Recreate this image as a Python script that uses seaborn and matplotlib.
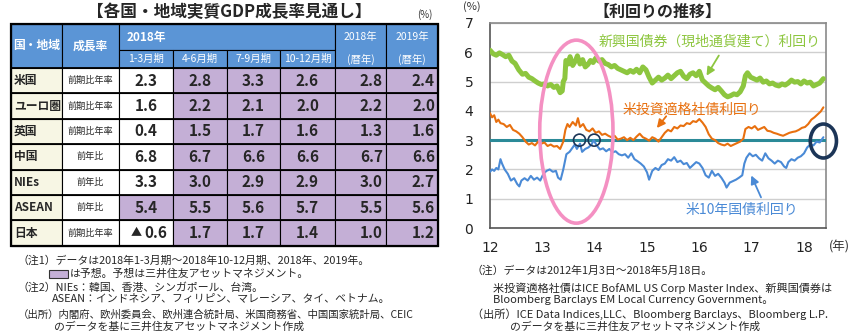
import numpy as np
import pandas as pd
import matplotlib
matplotlib.use("Agg")
import matplotlib.pyplot as plt
from matplotlib.patches import Rectangle, Ellipse
import seaborn as sns

sns.set_style("white")
plt.rcParams['font.family'] = ['Noto Sans CJK JP', 'DejaVu Sans']

# ---------------- table data ----------------
regions = ['米国', 'ユーロ圏', '英国', '中国', 'NIEs', 'ASEAN', '日本']
rate_types = ['前期比年率', '前期比年率', '前期比年率', '前年比', '前年比', '前年比', '前期比年率']
q1 = [2.3, 1.6, 0.4, 6.8, 3.3, 5.4, -0.6]
q2 = [2.8, 2.2, 1.5, 6.7, 3.0, 5.5, 1.7]
q3 = [3.3, 2.1, 1.7, 6.6, 2.9, 5.6, 1.7]
q4 = [2.6, 2.0, 1.6, 6.6, 2.9, 5.7, 1.4]
y2018 = [2.8, 2.2, 1.3, 6.7, 3.0, 5.5, 1.0]
y2019 = [2.4, 2.0, 1.6, 6.6, 2.7, 5.6, 1.2]
q1_forecast = [False, False, False, False, False, True, False]
quarter_labels = ['1-3月期', '4-6月期', '7-9月期', '10-12月期']

# ---------------- yield data (x = year, 2-digit) ----------------
em_x = [12.00, 12.06, 12.12, 12.18, 12.24, 12.30, 12.36, 12.42, 12.48, 12.55, 12.62, 12.68, 12.74, 12.80,
        12.86, 12.92, 12.98, 13.04, 13.10, 13.16, 13.22, 13.28, 13.34, 13.38, 13.40, 13.43, 13.45, 13.50,
        13.53, 13.58, 13.63, 13.67, 13.72, 13.77, 13.82, 13.87, 13.92, 13.97, 14.02, 14.08, 14.14, 14.20,
        14.26, 14.32, 14.38, 14.44, 14.50, 14.56, 14.62, 14.68, 14.74, 14.80, 14.86, 14.92, 14.98, 15.04,
        15.10, 15.16, 15.22, 15.28, 15.34, 15.40, 15.46, 15.52, 15.58, 15.64, 15.70, 15.76, 15.82, 15.88,
        15.94, 16.00, 16.06, 16.12, 16.18, 16.24, 16.30, 16.36, 16.42, 16.48, 16.54, 16.60, 16.66, 16.72,
        16.78, 16.84, 16.88, 16.92, 16.98, 17.04, 17.10, 17.16, 17.22, 17.28, 17.34, 17.40, 17.46, 17.52,
        17.58, 17.64, 17.70, 17.76, 17.82, 17.88, 17.94, 18.00, 18.06, 18.12, 18.18, 18.24, 18.30, 18.37]
em_y = [6.07, 5.95, 5.90, 5.98, 5.92, 5.85, 5.90, 5.70, 5.62, 5.40, 5.25, 5.28, 5.15, 5.10,
        5.02, 4.95, 4.90, 4.92, 4.85, 4.90, 4.80, 4.85, 4.62, 4.68, 5.00, 5.10, 5.72, 5.60,
        5.85, 5.55, 5.70, 5.88, 5.60, 5.75, 5.50, 5.58, 5.72, 5.65, 5.80, 5.70, 5.75, 5.62,
        5.58, 5.50, 5.55, 5.45, 5.40, 5.35, 5.30, 5.38, 5.32, 5.42, 5.30, 5.50, 5.40, 5.15,
        4.95, 5.05, 5.15, 5.05, 5.12, 5.22, 5.10, 5.20, 5.30, 5.35, 5.18, 5.10, 5.25, 5.30,
        5.20, 5.35, 5.05, 4.95, 4.85, 4.78, 4.72, 4.80, 4.68, 4.55, 4.48, 4.52, 4.58, 4.55,
        4.65, 4.85, 5.20, 5.30, 5.15, 5.10, 5.05, 5.12, 4.98, 5.02, 4.92, 4.95, 4.88, 4.85,
        4.92, 4.88, 4.95, 5.05, 4.98, 5.00, 4.92, 5.02, 4.95, 4.98, 4.85, 4.90, 4.95, 5.10]

ig_x = [12.00, 12.04, 12.08, 12.12, 12.16, 12.20, 12.26, 12.32, 12.38, 12.44, 12.50, 12.56, 12.62, 12.68,
        12.74, 12.80, 12.86, 12.92, 12.98, 13.04, 13.10, 13.16, 13.22, 13.28, 13.34, 13.40, 13.44, 13.48,
        13.52, 13.58, 13.64, 13.68, 13.72, 13.78, 13.84, 13.90, 13.96, 14.02, 14.08, 14.14, 14.20, 14.26,
        14.32, 14.38, 14.44, 14.50, 14.56, 14.62, 14.68, 14.74, 14.80, 14.86, 14.92, 14.98, 15.04, 15.10,
        15.16, 15.22, 15.28, 15.34, 15.40, 15.46, 15.52, 15.58, 15.64, 15.70, 15.76, 15.82, 15.88, 15.94,
        16.00, 16.06, 16.12, 16.18, 16.24, 16.30, 16.36, 16.42, 16.48, 16.54, 16.60, 16.66, 16.72, 16.78,
        16.84, 16.88, 16.94, 17.00, 17.06, 17.12, 17.18, 17.24, 17.30, 17.36, 17.42, 17.48, 17.54, 17.60,
        17.66, 17.72, 17.78, 17.84, 17.90, 17.96, 18.02, 18.08, 18.14, 18.20, 18.26, 18.32, 18.37]
ig_y = [3.92, 3.78, 3.85, 3.62, 3.70, 3.58, 3.55, 3.45, 3.52, 3.35, 3.30, 3.22, 3.10, 2.95,
        2.85, 2.90, 2.82, 2.95, 2.88, 2.92, 2.80, 2.85, 2.78, 2.80, 2.70, 2.95, 3.35, 3.55,
        3.45, 3.62, 3.50, 3.75, 3.45, 3.55, 3.35, 3.30, 3.40, 3.25, 3.30, 3.18, 3.22, 3.15,
        3.10, 3.15, 3.02, 3.05, 3.10, 3.00, 3.08, 3.00, 3.12, 3.22, 3.10, 3.05, 2.98, 3.10,
        3.05, 2.95, 3.10, 3.25, 3.35, 3.30, 3.45, 3.40, 3.50, 3.48, 3.58, 3.55, 3.65, 3.62,
        3.72, 3.60, 3.45, 3.20, 3.05, 3.00, 2.90, 2.85, 2.82, 2.88, 2.80, 2.85, 2.90, 2.95,
        3.05, 3.38, 3.45, 3.40, 3.48, 3.35, 3.40, 3.45, 3.32, 3.30, 3.25, 3.22, 3.18, 3.15,
        3.20, 3.25, 3.28, 3.30, 3.35, 3.42, 3.45, 3.55, 3.70, 3.78, 3.88, 3.98, 4.12]

ust_x = [12.00, 12.04, 12.08, 12.12, 12.16, 12.20, 12.23, 12.28, 12.34, 12.40, 12.46, 12.52, 12.56, 12.60,
         12.66, 12.72, 12.78, 12.84, 12.90, 12.96, 13.02, 13.08, 13.14, 13.20, 13.26, 13.30, 13.35, 13.40,
         13.46, 13.52, 13.58, 13.62, 13.66, 13.72, 13.76, 13.82, 13.88, 13.94, 13.98, 14.04, 14.10, 14.16,
         14.22, 14.28, 14.34, 14.40, 14.46, 14.52, 14.58, 14.64, 14.70, 14.76, 14.82, 14.88, 14.94, 15.00,
         15.04, 15.10, 15.16, 15.22, 15.28, 15.34, 15.40, 15.46, 15.52, 15.58, 15.64, 15.70, 15.76, 15.82,
         15.88, 15.94, 16.00, 16.06, 16.12, 16.18, 16.24, 16.30, 16.36, 16.42, 16.48, 16.52, 16.58, 16.64,
         16.70, 16.76, 16.82, 16.86, 16.90, 16.96, 17.02, 17.08, 17.14, 17.20, 17.26, 17.32, 17.38, 17.44,
         17.50, 17.56, 17.62, 17.66, 17.70, 17.76, 17.82, 17.88, 17.94, 18.00, 18.06, 18.12, 18.18, 18.24,
         18.30, 18.37]
ust_y = [1.92, 2.00, 1.95, 2.05, 2.00, 2.35, 2.20, 2.00, 1.85, 1.62, 1.70, 1.50, 1.42, 1.62,
         1.70, 1.62, 1.78, 1.65, 1.72, 1.62, 1.85, 1.95, 2.00, 1.92, 1.95, 1.72, 1.65, 2.00,
         2.52, 2.60, 2.75, 2.85, 2.70, 2.88, 2.60, 2.70, 2.75, 2.85, 3.00, 2.82, 2.68, 2.72,
         2.62, 2.70, 2.58, 2.62, 2.52, 2.48, 2.52, 2.40, 2.55, 2.35, 2.28, 2.20, 2.10, 1.90,
         1.65, 1.95, 2.05, 1.98, 2.15, 2.20, 2.35, 2.30, 2.42, 2.25, 2.30, 2.18, 2.22, 2.05,
         2.15, 2.25, 2.20, 2.05, 1.80, 1.72, 1.95, 1.78, 1.85, 1.72, 1.55, 1.38, 1.55, 1.60,
         1.65, 1.72, 1.80, 2.20, 2.40, 2.55, 2.45, 2.50, 2.38, 2.30, 2.55, 2.38, 2.30, 2.20,
         2.30, 2.25, 2.10, 2.05, 2.25, 2.35, 2.30, 2.40, 2.45, 2.55, 2.75, 2.85, 2.82, 2.95,
         2.92, 3.10]

x_ticks = [12, 13, 14, 15, 16, 17, 18]
y_ticks = [0, 1, 2, 3, 4, 5, 6, 7]

# ---------------- figure ----------------
W, H = 853, 334
fig = plt.figure(figsize=(W / 100, H / 100), dpi=100)
fig.patch.set_facecolor('white')

# overlay axes in pixel coordinates for table / texts
ax_t = fig.add_axes([0, 0, 1, 1])
ax_t.set_xlim(0, W)
ax_t.set_ylim(H, 0)
ax_t.axis('off')

C_HEAD = '#5b95d6'
C_PURP = '#c4afd6'
C_CREAM = '#f7f6e4'

col_edges = [11, 62, 119, 173, 227, 280, 335, 386, 438]
head_edges = [24, 50, 68]
row_h = 25.4
row_edges = [68 + i * row_h for i in range(len(regions) + 1)]

def rect(x0, y0, x1, y1, fc, lw=0.8):
    ax_t.add_patch(Rectangle((x0, y0), x1 - x0, y1 - y0, facecolor=fc, edgecolor='black', lw=lw, zorder=2))

# header cells
rect(col_edges[0], head_edges[0], col_edges[1], head_edges[2], C_HEAD)
rect(col_edges[1], head_edges[0], col_edges[2], head_edges[2], C_HEAD)
rect(col_edges[2], head_edges[0], col_edges[6], head_edges[1], C_HEAD)
for i in range(4):
    rect(col_edges[2 + i], head_edges[1], col_edges[3 + i], head_edges[2], C_HEAD)
rect(col_edges[6], head_edges[0], col_edges[7], head_edges[2], C_HEAD)
rect(col_edges[7], head_edges[0], col_edges[8], head_edges[2], C_HEAD)

hy = (head_edges[0] + head_edges[2]) / 2
ax_t.text((col_edges[0] + col_edges[1]) / 2, hy, '国・地域', color='white', fontsize=8.5,
          fontweight='bold', ha='center', va='center', zorder=3)
ax_t.text((col_edges[1] + col_edges[2]) / 2, hy, '成長率', color='white', fontsize=8.5,
          fontweight='bold', ha='center', va='center', zorder=3)
ax_t.text(col_edges[2] + 8, (head_edges[0] + head_edges[1]) / 2, '2018年', color='white', fontsize=8.5,
          fontweight='bold', ha='left', va='center', zorder=3)
for i, lab in enumerate(quarter_labels):
    ax_t.text((col_edges[2 + i] + col_edges[3 + i]) / 2, (head_edges[1] + head_edges[2]) / 2, lab,
              color='white', fontsize=7.5, ha='center', va='center', zorder=3)
for j, yr in zip([6, 7], ['2018年', '2019年']):
    cx = (col_edges[j] + col_edges[j + 1]) / 2
    ax_t.text(cx, 37, yr, color='white', fontsize=7.5, ha='center', va='center', zorder=3)
    ax_t.text(cx, 59, '(暦年)', color='white', fontsize=7.5, ha='center', va='center', zorder=3)

for r in range(len(regions)):
    y0, y1 = row_edges[r], row_edges[r + 1]
    cy = (y0 + y1) / 2
    rect(col_edges[0], y0, col_edges[1], y1, C_CREAM)
    rect(col_edges[1], y0, col_edges[2], y1, 'white')
    ax_t.text(col_edges[0] + 3, cy, regions[r], fontsize=8.5, fontweight='bold', ha='left',
              va='center', zorder=3)
    ax_t.text((col_edges[1] + col_edges[2]) / 2, cy, rate_types[r], fontsize=6.6, ha='center',
              va='center', zorder=3)
    vals = [q1[r], q2[r], q3[r], q4[r], y2018[r], y2019[r]]
    for k, v in enumerate(vals):
        c0, c1 = col_edges[2 + k], col_edges[3 + k]
        fc = C_PURP if (k > 0 or q1_forecast[r]) else 'white'
        rect(c0, y0, c1, y1, fc)
        if k < 4:
            if v < 0:
                ax_t.text((c0 + c1) / 2 - 4, cy, '▲', fontsize=8, fontweight='bold', ha='right',
                          va='center', zorder=3)
                ax_t.text((c0 + c1) / 2 - 2, cy, '%.1f' % abs(v), fontsize=11, fontweight='bold',
                          ha='left', va='center', zorder=3)
            else:
                ax_t.text((c0 + c1) / 2, cy, '%.1f' % v, fontsize=11, fontweight='bold', ha='center',
                          va='center', zorder=3)
        else:
            ax_t.text(c1 - 3, cy, '%.1f' % v, fontsize=11, fontweight='bold', ha='right',
                      va='center', zorder=3)
    ax_t.plot([col_edges[0], col_edges[-1]], [y0, y0], color='black', lw=1.3, zorder=4)

ax_t.add_patch(Rectangle((col_edges[0], head_edges[0]), col_edges[-1] - col_edges[0],
                         row_edges[-1] - head_edges[0], fill=False, edgecolor='black', lw=1.6, zorder=5))

# titles
ax_t.text(229, 12, '【各国・地域実質GDP成長率見通し】', fontsize=12, fontweight='bold',
          ha='center', va='center')
ax_t.text(425, 15, '(%)', fontsize=7, ha='center', va='center', color='#333333')
ax_t.text(657, 12, '【利回りの推移】', fontsize=11.5, fontweight='bold', ha='center', va='center')
ax_t.text(472, 7, '(%)', fontsize=8, ha='center', va='center', color='#333333')
ax_t.text(839, 247, '(年)', fontsize=9, ha='center', va='center', color='#333333')

# footnotes left
fs = 7.8
ax_t.text(18, 261, '（注1）データは2018年1-3月期～2018年10-12月期、2018年、2019年。', fontsize=fs, va='center')
ax_t.add_patch(Rectangle((49, 270), 19, 8, facecolor=C_PURP, edgecolor='#333333', lw=0.8))
ax_t.text(70, 274, 'は予想。予想は三井住友アセットマネジメント。', fontsize=fs, va='center')
ax_t.text(18, 287, '（注2）NIEs：韓国、香港、シンガポール、台湾。', fontsize=fs, va='center')
ax_t.text(52, 299, 'ASEAN：インドネシア、フィリピン、マレーシア、タイ、ベトナム。', fontsize=fs, va='center')
ax_t.text(18, 315, '（出所）内閣府、欧州委員会、欧州連合統計局、米国商務省、中国国家統計局、CEIC',
          fontsize=7.5, va='center')
ax_t.text(54, 327, 'のデータを基に三井住友アセットマネジメント作成', fontsize=fs, va='center')

# footnotes right
ax_t.text(472, 271, '（注）データは2012年1月3日～2018年5月18日。', fontsize=fs, va='center')
ax_t.text(493, 288, '米投資適格社債はICE BofAML US Corp Master Index、新興国債券は', fontsize=8, va='center')
ax_t.text(493, 300, 'Bloomberg Barclays EM Local Currency Government。', fontsize=8, va='center')
ax_t.text(472, 314, '（出所）ICE Data Indices,LLC、Bloomberg Barclays、Bloomberg L.P.', fontsize=8,
          va='center')
ax_t.text(510, 327, 'のデータを基に三井住友アセットマネジメント作成', fontsize=fs, va='center')

# ---------------- line chart ----------------
L, R, T, B = 490, 826, 23, 228
ax = fig.add_axes([L / W, 1 - B / H, (R - L) / W, (B - T) / H])
ax.set_facecolor('white')

C_GREEN = '#8dc63f'
C_ORANGE = '#e8700f'
C_BLUE = '#4a8ad6'
C_TEAL = '#2b8a98'
C_NAVY = '#1c3557'

ax.axhline(3, color=C_TEAL, lw=2.2, zorder=3)
sns.lineplot(x=em_x, y=em_y, ax=ax, color=C_GREEN, lw=3.6, sort=False, estimator=None, zorder=4)
sns.lineplot(x=ig_x, y=ig_y, ax=ax, color=C_ORANGE, lw=1.5, sort=False, estimator=None, zorder=4)
sns.lineplot(x=ust_x, y=ust_y, ax=ax, color=C_BLUE, lw=1.5, sort=False, estimator=None, zorder=4)

ax.set_xlim(12, 18.42)
ax.set_ylim(0, 7)
ax.set_xticks(x_ticks)
ax.set_xticklabels([str(t) for t in x_ticks], fontfamily='DejaVu Sans', fontsize=10, color='#222222')
ax.set_yticks(y_ticks)
ax.set_yticklabels([str(t) for t in y_ticks], fontfamily='DejaVu Sans', fontsize=10, color='#222222')
ax.tick_params(axis='x', direction='in', length=4, width=1, color='#666666', pad=9)
ax.tick_params(axis='y', direction='in', length=5, width=1, color='#666666', pad=12)
ax.yaxis.grid(True, color='#cfcfcf', lw=1)
ax.xaxis.grid(False)
for s in ax.spines.values():
    s.set_color('#8a8a8a')
    s.set_linewidth(1.2)
ax.spines['left'].set_color('#555555')
ax.spines['bottom'].set_color('#555555')
ax.set_xlabel('')
ax.set_ylabel('')

# labels and arrows
ax.text(14.07, 6.38, '新興国債券（現地通貨建て）利回り', color=C_GREEN, fontsize=10, ha='left', va='center')
ax.annotate('', xy=(16.11, 5.12), xytext=(16.40, 5.97),
            arrowprops=dict(arrowstyle='-|>', color=C_GREEN, lw=1.3, mutation_scale=12))
ax.text(14.54, 4.03, '米投資適格社債利回り', color=C_ORANGE, fontsize=10, ha='left', va='center')
ax.annotate('', xy=(15.155, 3.34), xytext=(15.40, 3.89),
            arrowprops=dict(arrowstyle='-|>', color=C_ORANGE, lw=1.3, mutation_scale=12))
ax.text(15.73, 0.61, '米10年国債利回り', color=C_BLUE, fontsize=10, ha='left', va='center')
ax.annotate('', xy=(16.97, 1.88), xytext=(17.20, 0.96),
            arrowprops=dict(arrowstyle='-|>', color=C_BLUE, lw=1.3, mutation_scale=12))

# highlight shapes
ax.add_patch(Ellipse((13.65, 3.29), 1.40, 6.25, fill=False, edgecolor='#f490c2', lw=2.6, zorder=6))
ax.add_patch(Ellipse((13.71, 3.0), 0.23, 0.41, fill=False, edgecolor=C_NAVY, lw=1.2, zorder=6))
ax.add_patch(Ellipse((13.99, 3.0), 0.23, 0.41, fill=False, edgecolor=C_NAVY, lw=1.2, zorder=6))
ax.add_patch(Ellipse((18.37, 2.97), 0.50, 1.16, fill=False, edgecolor=C_NAVY, lw=2.6, zorder=6,
                     clip_on=False))

fig.savefig('out.png', dpi=100, facecolor='white')
